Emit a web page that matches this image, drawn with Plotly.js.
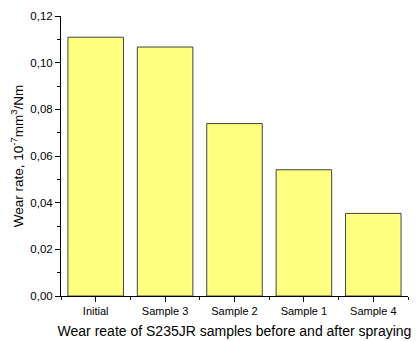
<!DOCTYPE html>
<html><head><meta charset="utf-8">
<script src="https://cdn.plot.ly/plotly-3.0.1.min.js"></script>
<style>body{margin:0;background:#fff}#c{width:417px;height:341px}</style>
</head><body><div id="c"></div>
<script>
const categories = ["Initial", "Sample 3", "Sample 2", "Sample 1", "Sample 4"];
const wearRate = [0.1109, 0.1067, 0.0739, 0.0541, 0.0354];
const positions = categories.map((_, i) => i);

Plotly.newPlot('c', [{
  type: 'bar',
  x: positions,
  y: wearRate,
  marker: {color: '#ffff80', line: {color: '#444444', width: 1}},
  hoverinfo: 'none'
}], {
  width: 417, height: 341,
  margin: {l: 61, r: 9, t: 16, b: 45},
  paper_bgcolor: '#fff', plot_bgcolor: '#fff',
  separators: ',.',
  bargap: 0.2,
  showlegend: false,
  font: {family: 'Liberation Sans, Arial, sans-serif', color: '#000'},
  xaxis: {
    range: [-0.5, 4.5],
    tickvals: positions, ticktext: categories,
    ticks: 'outside', ticklen: 5, tickwidth: 1, tickcolor: '#000',
    minor: {tick0: 0.5, dtick: 1, ticks: 'outside', ticklen: 3, tickcolor: '#000', showgrid: false},
    showline: true, linecolor: '#000', linewidth: 1,
    showgrid: false, zeroline: false,
    tickfont: {size: 11},
    title: {text: 'Wear reate of S235JR samples before and after spraying', font: {size: 14}, standoff: 9}
  },
  yaxis: {
    range: [0, 0.12],
    dtick: 0.02, tickformat: '.2f',
    ticks: 'outside', ticklen: 5, tickwidth: 1, tickcolor: '#000',
    minor: {dtick: 0.01, ticks: 'outside', ticklen: 3, tickcolor: '#000', showgrid: false},
    showline: true, linecolor: '#000', linewidth: 1,
    showgrid: false, zeroline: false,
    tickfont: {size: 11.5},
    title: {text: 'Wear rate, 10<sup>-7</sup>mm<sup>3</sup>/Nm', font: {size: 13.5}, standoff: 3}
  }
}, {displayModeBar: false, staticPlot: true});
</script></body></html>
